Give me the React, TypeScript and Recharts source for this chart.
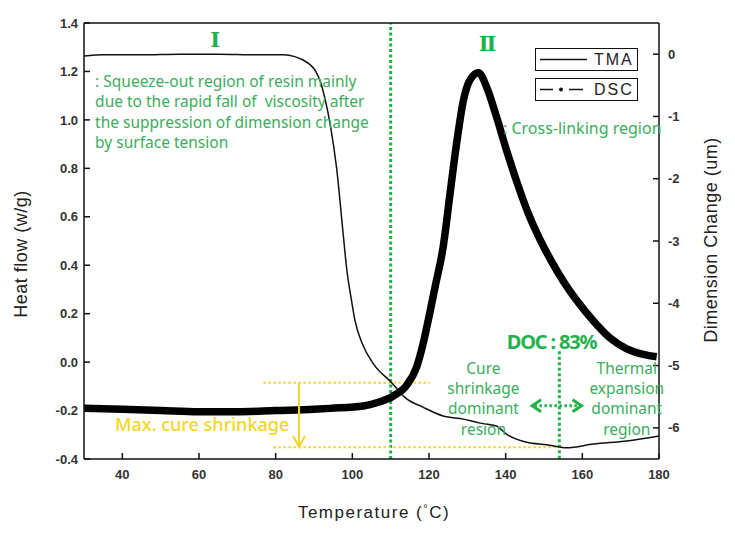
import { ComposedChart, Legend, Line, ReferenceDot, ReferenceLine, XAxis, YAxis } from 'recharts'

// TMA: dimension change (um), right axis
const tmaTemp = [30, 35, 45, 55, 65, 75, 82, 85, 87, 89, 90.5, 91.6, 93, 94.2, 95.9, 97.6, 98.5, 99.8, 100.7, 102.6, 105.6, 110.2, 113.7, 118.5, 123.7, 129, 133, 137.6, 140.2, 145.5, 150.7, 155.9, 162.9, 171.6, 180]
const tmaDim = [-0.03, -0.01, -0.01, 0.0, 0.0, -0.01, -0.01, -0.04, -0.09, -0.17, -0.28, -0.43, -0.75, -1.12, -1.83, -2.88, -3.43, -3.96, -4.28, -4.65, -4.98, -5.27, -5.51, -5.67, -5.81, -5.86, -5.92, -5.97, -6.1, -6.23, -6.27, -6.32, -6.26, -6.21, -6.13]

// DSC: heat flow (w/g), left axis
const dscTemp = [30, 40, 50, 60, 70, 80, 90, 94.2, 102.9, 107.2, 110.7, 114.2, 116.8, 118.5, 120.1, 121.6, 123.7, 125.5, 127.2, 129, 130.7, 132.9, 135, 137.6, 140.2, 143, 146, 149, 152, 155, 158.5, 162.9, 167.2, 171.6, 175.9, 179.4]
const dscHeat = [-0.19, -0.195, -0.2, -0.205, -0.205, -0.2, -0.195, -0.191, -0.181, -0.164, -0.14, -0.095, -0.019, 0.078, 0.195, 0.311, 0.476, 0.697, 0.903, 1.082, 1.165, 1.195, 1.137, 1.013, 0.876, 0.74, 0.61, 0.505, 0.415, 0.335, 0.255, 0.17, 0.1, 0.055, 0.032, 0.022]

const tempTicks = [40, 60, 80, 100, 120, 140, 160, 180]
const heatTicks = [-0.4, -0.2, 0, 0.2, 0.4, 0.6, 0.8, 1.0, 1.2, 1.4]
const dimTicks = [-6, -5, -4, -3, -2, -1, 0]

const tmaData = tmaTemp.map((temp, i) => ({ temp, dim: tmaDim[i] }))
const dscData = dscTemp.map((temp, i) => ({ temp, heat: dscHeat[i] }))

const GREEN = '#22b24c'
const TEXT_GREEN = '#3aae5c'
const YELLOW = '#f5d526'
const SANS = '"Liberation Sans", Arial, sans-serif'
const NOTE_FONT = '"Noto Sans", sans-serif'

const tickStyle = { fontFamily: SANS, fontSize: 13, fontWeight: 700, fill: '#333' }

function noteShape(lines: string[], opts: { anchor?: 'start' | 'middle'; size?: number; weight?: number; color?: string; family?: string; lh?: number; spacing?: number }) {
  const { anchor = 'start', size = 15.5, weight = 400, color = TEXT_GREEN, family = NOTE_FONT, lh = 20.3, spacing = 0 } = opts
  return (props: any) => {
    const { cx, cy } = props
    return (
      <text textAnchor={anchor} fontFamily={family} fontSize={size} fontWeight={weight} fill={color} letterSpacing={spacing}>
        {lines.map((line, i) => (
          <tspan key={i} x={cx} y={cy + i * lh} dy="0.35em" style={{ whiteSpace: 'pre' }}>
            {line}
          </tspan>
        ))}
      </text>
    )
  }
}

const chevron = (dir: 'left' | 'right' | 'down', color: string, w: number) => (props: any) => {
  const { cx, cy } = props
  let d = ''
  if (dir === 'left') d = `M${cx + 9},${cy - 6} L${cx},${cy} L${cx + 9},${cy + 6}`
  if (dir === 'right') d = `M${cx - 9},${cy - 6} L${cx},${cy} L${cx - 9},${cy + 6}`
  if (dir === 'down') d = `M${cx - 6},${cy - 11} L${cx},${cy} L${cx + 6},${cy - 11}`
  return <path d={d} fill="none" stroke={color} strokeWidth={w} />
}

function LegendBox({ label, dsc }: { label: string; dsc?: boolean }) {
  return (
    <div style={{ width: 101, height: 21, border: '1.5px solid #111', display: 'flex', alignItems: 'center', background: '#fff' }}>
      <svg width={52} height={21}>
        {dsc ? (
          <>
            <line x1={4} x2={17} y1={10.5} y2={10.5} stroke="#111" strokeWidth={1.5} />
            <circle cx={25} cy={10.5} r={2} fill="#111" />
            <line x1={33} x2={47} y1={10.5} y2={10.5} stroke="#111" strokeWidth={1.5} />
          </>
        ) : (
          <line x1={4} x2={51} y1={10.5} y2={10.5} stroke="#111" strokeWidth={1.5} />
        )}
      </svg>
      <span style={{ fontFamily: SANS, fontSize: 16, letterSpacing: 2, color: '#222', marginLeft: 6 }}>{label}</span>
    </div>
  )
}

function LegendContent() {
  return (
    <div style={{ display: 'flex', flexDirection: 'column', gap: 7 }}>
      <LegendBox label="TMA" />
      <LegendBox label="DSC" dsc />
    </div>
  )
}

export default function App() {
  return (
    <div style={{ position: 'absolute', left: 0, top: 0, width: 735, height: 536, background: '#fff' }}>
      <ComposedChart width={735} height={536} margin={{ top: 18, right: 0, bottom: 47, left: 0 }}>
        <XAxis
          dataKey="temp"
          type="number"
          domain={[30, 180]}
          ticks={tempTicks}
          allowDataOverflow
          height={30}
          tick={tickStyle}
          tickSize={-6}
          tickMargin={17}
          axisLine={{ stroke: '#111', strokeWidth: 1.5 }}
          tickLine={{ stroke: '#111', strokeWidth: 1.5 }}
          label={() => (
            <text x={374} y={518} textAnchor="middle" fontFamily={SANS} fontSize={17} letterSpacing={1.5} fill="#222">
              Temperature (<tspan dy={-6} fontSize={11}>°</tspan>
              <tspan dy={6}>C)</tspan>
            </text>
          )}
        />
        <XAxis
          xAxisId="top"
          orientation="top"
          dataKey="temp"
          type="number"
          domain={[30, 180]}
          ticks={tempTicks}
          height={5}
          tickSize={-6}
          tickFormatter={() => ''}
          axisLine={{ stroke: '#111', strokeWidth: 1.5 }}
          tickLine={{ stroke: '#111', strokeWidth: 1.5 }}
        />
        <YAxis
          yAxisId="left"
          type="number"
          domain={[-0.4, 1.4]}
          ticks={heatTicks}
          width={84}
          tick={tickStyle}
          tickSize={-6}
          tickMargin={12}
          tickFormatter={(v: number) => v.toFixed(1)}
          axisLine={{ stroke: '#111', strokeWidth: 1.5 }}
          tickLine={{ stroke: '#111', strokeWidth: 1.5 }}
          label={() => (
            <text x={21} y={254} transform="rotate(-90 21 254)" textAnchor="middle" dominantBaseline="central" fontFamily={SANS} fontSize={18} letterSpacing={0.5} fill="#222">
              Heat flow (w/g)
            </text>
          )}
        />
        <YAxis
          yAxisId="right"
          orientation="right"
          type="number"
          domain={[-6.5, 0.5]}
          ticks={dimTicks}
          width={76}
          tick={tickStyle}
          tickSize={-6}
          tickMargin={15}
          axisLine={{ stroke: '#111', strokeWidth: 1.5 }}
          tickLine={{ stroke: '#111', strokeWidth: 1.5 }}
          label={() => (
            <text x={711} y={240} transform="rotate(-90 711 240)" textAnchor="middle" dominantBaseline="central" fontFamily={SANS} fontSize={18} letterSpacing={0.5} fill="#222">
              Dimension Change (um)
            </text>
          )}
        />
        <Legend
          layout="horizontal"
          verticalAlign="middle"
          align="center"
          content={() => <LegendContent />}
          wrapperStyle={{ top: 48, left: 535, width: 'auto', height: 'auto' }}
        />

        {/* guide lines */}
        <ReferenceLine yAxisId="left" x={110} stroke={GREEN} strokeWidth={3} strokeDasharray="3 2.5" />
        <ReferenceLine yAxisId="left" segment={[{ x: 154, y: 0.045 }, { x: 154, y: -0.4 }]} stroke={GREEN} strokeWidth={3} strokeDasharray="3 2.5" />
        <ReferenceLine yAxisId="left" segment={[{ x: 76.8, y: -0.085 }, { x: 120.3, y: -0.085 }]} stroke={YELLOW} strokeWidth={2} strokeDasharray="2.5 2.5" />
        <ReferenceLine yAxisId="left" segment={[{ x: 79.4, y: -0.352 }, { x: 154.2, y: -0.352 }]} stroke={YELLOW} strokeWidth={2} strokeDasharray="2.5 2.5" />

        <Line xAxisId={0} yAxisId="right" data={tmaData} dataKey="dim" type="monotone" stroke="#111" strokeWidth={1.5} dot={false} isAnimationActive={false} />
        <Line xAxisId={0} yAxisId="left" data={dscData} dataKey="heat" type="monotone" stroke="#000" strokeWidth={7.5} dot={false} isAnimationActive={false} />

        {/* max cure shrinkage arrow */}
        <ReferenceLine yAxisId="left" segment={[{ x: 86.1, y: -0.085 }, { x: 86.1, y: -0.35 }]} stroke={YELLOW} strokeWidth={2} />
        <ReferenceDot yAxisId="left" x={86.1} y={-0.35} r={0} shape={chevron('down', YELLOW, 2)} />

        {/* DOC double arrow */}
        <ReferenceLine yAxisId="left" segment={[{ x: 147.5, y: -0.18 }, { x: 159.5, y: -0.18 }]} stroke={GREEN} strokeWidth={3} strokeDasharray="2.5 2.5" />
        <ReferenceDot yAxisId="left" x={146.9} y={-0.18} r={0} shape={chevron('left', GREEN, 3)} />
        <ReferenceDot yAxisId="left" x={159.8} y={-0.18} r={0} shape={chevron('right', GREEN, 3)} />

        {/* annotations */}
        <ReferenceDot yAxisId="left" x={64.2} y={1.33} r={0} shape={noteShape(['I'], { anchor: 'middle', size: 21, weight: 700, color: GREEN, family: '"DejaVu Serif", serif' })} />
        <ReferenceDot yAxisId="left" x={135} y={1.313} r={0} shape={noteShape(['II'], { anchor: 'middle', size: 21, weight: 700, color: GREEN, family: '"DejaVu Serif", serif', spacing: -2 })} />
        <ReferenceDot
          yAxisId="left"
          x={32.9}
          y={1.158}
          r={0}
          shape={noteShape([': Squeeze-out region of resin mainly', 'due to the rapid fall of  viscosity after', 'the suppression of dimension change', 'by surface tension'], {})}
        />
        <ReferenceDot yAxisId="left" x={139.3} y={0.965} r={0} shape={noteShape([': Cross-linking region'], { size: 16 })} />
        <ReferenceDot yAxisId="left" x={140.3} y={0.084} r={0} shape={noteShape(['DOC : 83%'], { size: 20, weight: 700, color: GREEN, spacing: -1.2 })} />
        <ReferenceDot yAxisId="left" x={134.2} y={-0.026} r={0} shape={noteShape(['Cure', 'shrinkage', 'dominant', 'resion'], { anchor: 'middle' })} />
        <ReferenceDot yAxisId="left" x={171.6} y={-0.026} r={0} shape={noteShape(['Thermal', 'expansion', 'dominant', 'region'], { anchor: 'middle' })} />
        <ReferenceDot yAxisId="left" x={38.1} y={-0.26} r={0} shape={noteShape(['Max. cure shrinkage'], { size: 18, weight: 500, color: YELLOW })} />
      </ComposedChart>
    </div>
  )
}
